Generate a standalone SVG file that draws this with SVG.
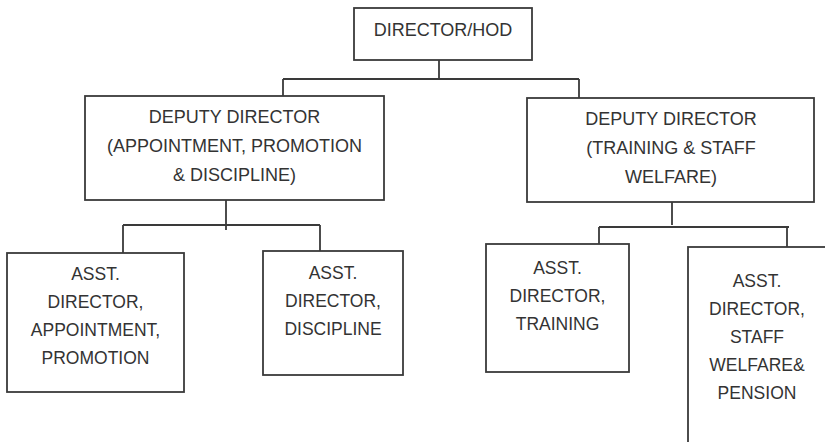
<svg xmlns="http://www.w3.org/2000/svg" width="825" height="442" viewBox="0 0 825 442">
  <style>
    .box { fill: #ffffff; stroke: #3a3a3a; stroke-width: 1.8; }
    .link { fill: none; stroke: #3a3a3a; stroke-width: 1.8; }
    text { font-family: "Liberation Sans", Arial, sans-serif; fill: #333333; text-anchor: middle; }
    .big { font-size: 18px; }
    .small { font-size: 17.5px; }
  </style>
  <rect width="825" height="442" fill="#ffffff"/>

  <g id="connectors">
    <path class="link" d="M439,60 V79 M283,79 H579 M283,79 V96 M579,79 V98"/>
    <path class="link" d="M226,200 V230 M123,225 H320 M123,225 V253 M320,225 V254"/>
    <path class="link" d="M672,202 V225 M599,227 H789 M599,227 V244 M787,227 V254"/>
  </g>

  <g id="director">
    <rect class="box" x="354" y="8" width="178" height="52"/>
    <text class="big" x="443" y="36">DIRECTOR/HOD</text>
  </g>

  <g id="deputy-appointment">
    <rect class="box" x="85" y="96" width="299" height="104"/>
    <text class="big" x="234.5" y="123">DEPUTY DIRECTOR</text>
    <text class="big" x="234.5" y="152">(APPOINTMENT, PROMOTION</text>
    <text class="big" x="234.5" y="181">&amp; DISCIPLINE)</text>
  </g>

  <g id="deputy-training">
    <rect class="box" x="527" y="98" width="287" height="104"/>
    <text class="big" x="671" y="125">DEPUTY DIRECTOR</text>
    <text class="big" x="671" y="154">(TRAINING &amp; STAFF</text>
    <text class="big" x="671" y="183">WELFARE)</text>
  </g>

  <g id="asst-appointment">
    <rect class="box" x="7" y="253" width="177" height="139"/>
    <text class="small" x="95.5" y="280">ASST.</text>
    <text class="small" x="95.5" y="308">DIRECTOR,</text>
    <text class="small" x="95.5" y="336">APPOINTMENT,</text>
    <text class="small" x="95.5" y="364">PROMOTION</text>
  </g>

  <g id="asst-discipline">
    <rect class="box" x="263" y="251" width="140" height="124"/>
    <text class="small" x="333" y="279">ASST.</text>
    <text class="small" x="333" y="307">DIRECTOR,</text>
    <text class="small" x="333" y="335">DISCIPLINE</text>
  </g>

  <g id="asst-training">
    <rect class="box" x="486" y="244" width="143" height="128"/>
    <text class="small" x="557.5" y="274">ASST.</text>
    <text class="small" x="557.5" y="302">DIRECTOR,</text>
    <text class="small" x="557.5" y="330">TRAINING</text>
  </g>

  <g id="asst-welfare">
    <rect class="box" x="688" y="247" width="140" height="210"/>
    <text class="small" x="757" y="287">ASST.</text>
    <text class="small" x="757" y="315">DIRECTOR,</text>
    <text class="small" x="757" y="343">STAFF</text>
    <text class="small" x="757" y="371">WELFARE&amp;</text>
    <text class="small" x="757" y="399">PENSION</text>
  </g>
</svg>
